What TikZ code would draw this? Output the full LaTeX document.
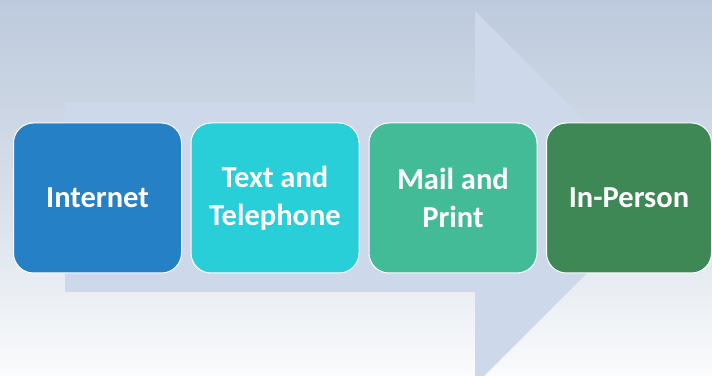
\documentclass[tikz,border=0pt]{standalone}
\usepackage{fontspec}
\setmainfont{Carlito}
\usetikzlibrary{shapes.misc}
\definecolor{bgtop}{HTML}{BDCADD}
\definecolor{bgmid}{HTML}{D6DEE9}
\definecolor{bgbottom}{HTML}{FAFBFC}
\definecolor{arrowfill}{HTML}{CDD9EA}
\definecolor{stepblue}{HTML}{2680C5}
\definecolor{stepteal}{HTML}{28CED8}
\definecolor{stepgreen}{HTML}{44BB97}
\definecolor{stepdark}{HTML}{3E8855}
\tikzstyle{channel}=[draw=white, line width=1pt, rounded corners=20pt, minimum width=168pt, minimum height=150pt, text=white, font=\fontsize{30.5}{38}\selectfont\bfseries, align=center, inner sep=0]
\tikzstyle{backarrow}=[fill=arrowfill]

\begin{document}
\begin{tikzpicture}[x=1pt, y=1pt]
          \useasboundingbox (0, 0) rectangle (712, 375);
          \shade[top color=bgtop, bottom color=bgbottom, middle color=bgmid] (0, 0) rectangle (712, 375);
          \fill[backarrow] (65, 83) -- (65, 272) -- (475, 272) -- (475, 364)
            -- (662, 177) -- (475, -10) -- (475, 83) -- cycle;

          \node[channel, fill=stepblue] (internet) at (97.5, 177) {Internet};
          \node[channel, fill=stepteal] (text_phone) at (275, 177) {Text and\\Telephone};
          \node[channel, fill=stepgreen] (mail_print) at (453, 177) {Mail and\\Print};
          \node[channel, fill=stepdark, minimum width=165pt] (in_person) at (629, 177) {In-Person};
        \end{tikzpicture}
\end{document}
